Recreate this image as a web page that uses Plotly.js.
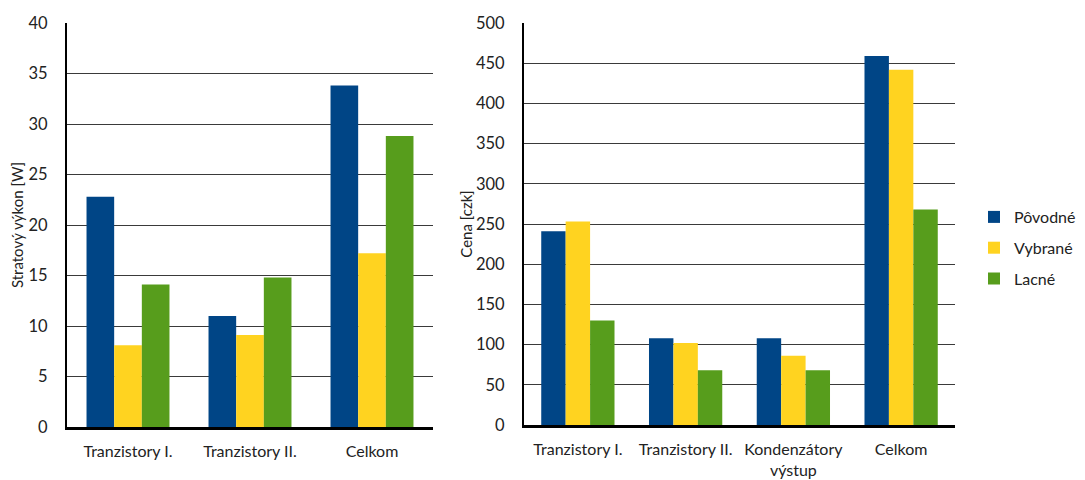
<!DOCTYPE html>
<html><head><meta charset="utf-8">
<script src="https://cdn.plot.ly/plotly-3.0.1.min.js"></script>
<style>html,body{margin:0;padding:0;background:#fff}#c{width:1085px;height:480px}</style>
</head><body><div id="c"></div>
<script>
const seriesNames = ['Pôvodné', 'Vybrané', 'Lacné'];
const seriesColors = ['#004586', '#ffd320', '#579d1c'];

const lossCategories = ['Tranzistory I.', 'Tranzistory II.', 'Celkom'];
const lossPovodne = [22.8, 11.0, 33.8];
const lossVybrane = [8.1, 9.1, 17.2];
const lossLacne = [14.1, 14.8, 28.8];

const priceCategories = ['Tranzistory I.', 'Tranzistory II.', 'Kondenzátory<br>výstup', 'Celkom'];
const pricePovodne = [241, 108, 108, 459];
const priceVybrane = [253, 102, 86, 442];
const priceLacne = [130, 68, 68, 268];

const lossSeries = [lossPovodne, lossVybrane, lossLacne];
const priceSeries = [pricePovodne, priceVybrane, priceLacne];

const traces = [];
lossSeries.forEach((vals, i) => traces.push({
  type: 'bar', x: lossCategories, y: vals, name: seriesNames[i],
  marker: {color: seriesColors[i]}, xaxis: 'x', yaxis: 'y',
  legendgroup: 'g' + i, showlegend: true, hoverinfo: 'y'
}));
priceSeries.forEach((vals, i) => traces.push({
  type: 'bar', x: priceCategories, y: vals, name: seriesNames[i],
  marker: {color: seriesColors[i]}, xaxis: 'x2', yaxis: 'y2',
  legendgroup: 'g' + i, showlegend: false, hoverinfo: 'y'
}));

const W = 1085, H = 480;
const MR = 130;
const PW = W - MR;
const font = {family: 'Lato, "Open Sans", sans-serif', size: 16, color: '#222'};
const yCommon = {
  showgrid: true, gridcolor: '#3a3a3a', gridwidth: 1,
  showline: true, linecolor: '#000', linewidth: 2,
  zeroline: false, ticks: '', ticklabelstandoff: 14,
  tickfont: {size: 16.5, color: '#222'}, automargin: false
};
const xCommon = {
  showline: true, linecolor: '#000', linewidth: 2.5,
  ticks: '', ticklabelstandoff: 8, tickfont: {size: 16, color: '#222'},
  tickangle: 0,
  showgrid: false, zeroline: false, automargin: false
};

const layout = {
  width: W, height: H,
  margin: {l: 0, r: MR, t: 0, b: 0},
  paper_bgcolor: '#fff', plot_bgcolor: '#fff',
  font: font,
  barmode: 'group', bargap: 0.32, bargroupgap: 0,
  showlegend: true,
  legend: {x: 974 / PW, y: 1 - 200 / H, xanchor: 'left', yanchor: 'top',
           font: {size: 16, color: '#222'}, tracegroupgap: 7,
           itemwidth: 30, bgcolor: 'rgba(0,0,0,0)'},
  xaxis: Object.assign({}, xCommon, {domain: [67 / PW, 433 / PW], anchor: 'y'}),
  yaxis: Object.assign({}, yCommon, {domain: [1 - 427 / H, 1 - 23 / H], anchor: 'x',
    range: [0, 40], dtick: 5,
    title: {text: 'Stratový výkon [W]', font: {size: 15, color: '#222'}, standoff: 1}}),
  xaxis2: Object.assign({}, xCommon, {domain: [524 / PW, 957 / PW], anchor: 'y2'}),
  yaxis2: Object.assign({}, yCommon, {domain: [1 - 425 / H, 1 - 23 / H], anchor: 'x2',
    range: [0, 500], dtick: 50,
    title: {text: 'Cena [czk]', font: {size: 15, color: '#222'}, standoff: 0}})
};

Plotly.newPlot('c', traces, layout, {displayModeBar: false, staticPlot: true});
</script>
</body></html>
